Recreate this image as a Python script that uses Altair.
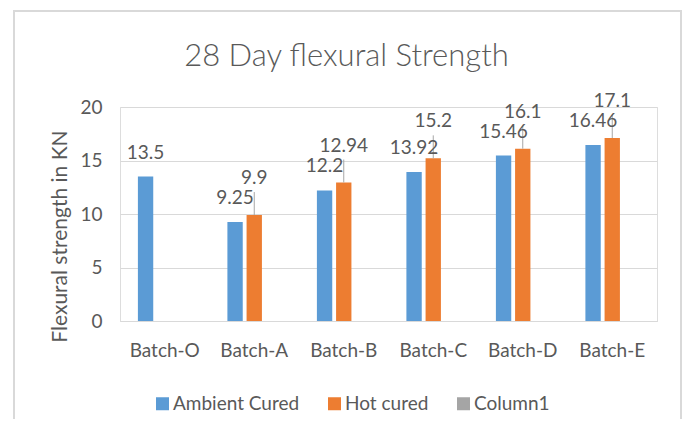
import altair as alt
import pandas as pd

categories = ["Batch-O", "Batch-A", "Batch-B", "Batch-C", "Batch-D", "Batch-E"]
series = ["Ambient Cured", "Hot cured", "Column1"]
colors = ["#5B9BD5", "#ED7D31", "#A5A5A5"]
ambient = [13.5, 9.25, 12.2, 13.92, 15.46, 16.46]
hot = [None, 9.9, 12.94, 15.2, 16.1, 17.1]
y_ticks = [0, 5, 10, 15, 20]

rows = []
for c, a, h in zip(categories, ambient, hot):
    rows.append({"batch": c, "series": "Ambient Cured", "value": a})
    if h is not None:
        rows.append({"batch": c, "series": "Hot cured", "value": h})
df = pd.DataFrame(rows)

FONT = "Lato"
TXT = "#595959"

x_enc = alt.X(
    "batch:N",
    sort=categories,
    scale=alt.Scale(paddingInner=0.4, paddingOuter=0.2),
    axis=alt.Axis(title=None, labelAngle=0, labelFontSize=19, labelFont=FONT,
                  labelColor=TXT, labelPadding=20, ticks=False,
                  domainColor="#D9D9D9", grid=False),
)
xo_enc = alt.XOffset("series:N", scale=alt.Scale(domain=series, paddingInner=0.2, paddingOuter=0))
y_enc = alt.Y(
    "value:Q",
    scale=alt.Scale(domain=[0, 20]),
    axis=alt.Axis(values=y_ticks, title="Flexural strength in KN", titleFontSize=21,
                  titleFont=FONT, titleColor=TXT, titleFontWeight="normal",
                  titleX=-60, titleY=129, titleBaseline="middle", titleAlign="center",
                  titleAngle=270,
                  labelFontSize=19, labelFont=FONT, labelColor=TXT,
                  labelPadding=18, ticks=False, domain=False, gridColor="#D9D9D9"),
)

base = alt.Chart(df).encode(x=x_enc, xOffset=xo_enc, y=y_enc)

bars = base.mark_bar().encode(
    color=alt.Color(
        "series:N",
        scale=alt.Scale(domain=series, range=colors),
        legend=alt.Legend(orient="none", legendX=33, legendY=287, direction="horizontal",
                          title=None, symbolType="square", symbolSize=169,
                          symbolStrokeWidth=0, labelFontSize=19, labelFont=FONT,
                          labelColor=TXT, columnPadding=25, labelOffset=1),
    )
)

amb_labels = base.transform_filter(alt.datum.series == "Ambient Cured").mark_text(
    font=FONT, fontSize=19, color=TXT, dy=-18, baseline="alphabetic"
).encode(text=alt.Text("value:Q"))

hot_labels = base.transform_filter(alt.datum.series == "Hot cured").mark_text(
    font=FONT, fontSize=19, color=TXT, dy=-31, baseline="alphabetic"
).encode(text=alt.Text("value:Q"))

leaders = base.transform_filter(alt.datum.series == "Hot cured").mark_rule(
    color="#A6A6A6", strokeWidth=1, y2Offset=-23
).encode(y2=alt.Y2("value:Q"))

border = alt.Chart(pd.DataFrame({"a": [0]})).mark_rect(
    fill="transparent", stroke="#D9D9D9", strokeWidth=2
).encode(x=alt.value(-106), x2=alt.value(561), y=alt.value(-96), y2=alt.value(420))

chart = alt.layer(border, bars, leaders, amb_labels, hot_labels).properties(
    width=537,
    height=214,
    autosize=alt.AutoSizeParams(type="none"),
    padding={"left": 112, "top": 99, "right": 27, "bottom": 98},
    title=alt.TitleParams("28 Day flexural Strength", fontSize=31, font=FONT,
                          fontWeight=300, color=TXT, anchor="middle", dx=-42,
                          baseline="alphabetic", offset=4, dy=91),
).configure_view(strokeWidth=0).configure(background="white")

chart.save("out.html", embed_options={"renderer": "svg", "actions": False})
